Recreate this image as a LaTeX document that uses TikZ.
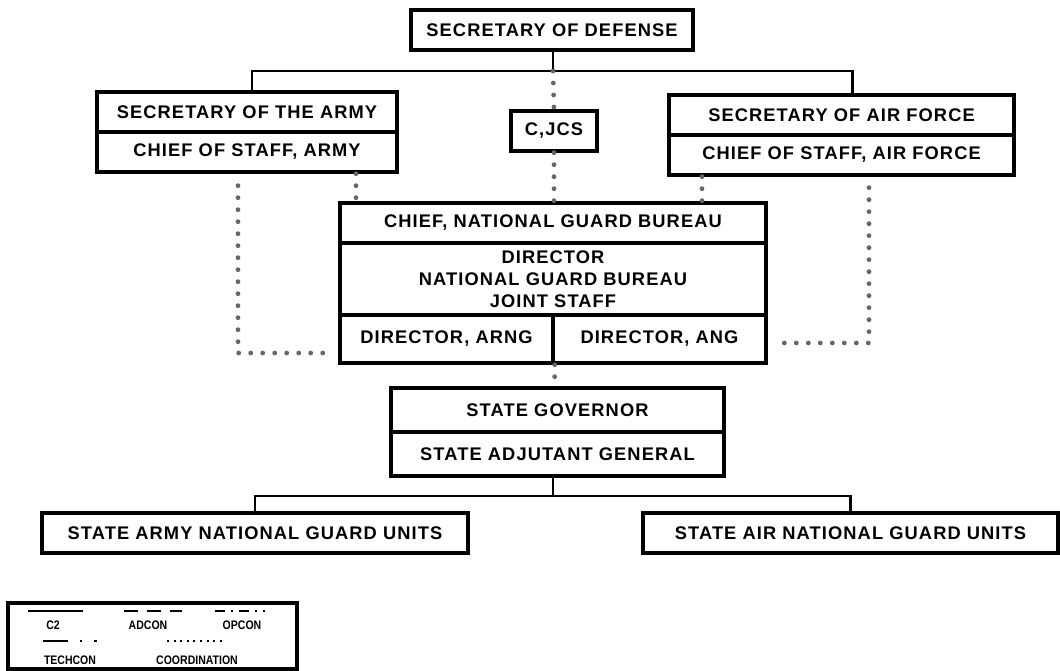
\documentclass[tikz,border=0pt]{standalone}
\usepackage{fontspec}
\setmainfont{Liberation Sans}
\newfontfamily\orgfont[LetterSpace=6]{Liberation Sans}
\newfontfamily\legfont[FakeStretch=0.85]{Liberation Sans}
\definecolor{dotgray}{HTML}{666666}

\begin{document}
\begin{tikzpicture}[
    orgbox/.style={draw, rectangle, line width=2.4pt, inner sep=0pt, align=center,
        font=\orgfont\fontsize{13}{15.6}\selectfont\bfseries},
    conn/.style={line width=2pt},
    coord/.style={draw=dotgray, line width=0.12cm, line cap=round, dash pattern=on 0pt off 0.3cm},
    legtext/.style={font=\legfont\fontsize{8.8}{10}\selectfont\bfseries, inner sep=0pt},
    legline/.style={line width=1.5pt}
]
    \useasboundingbox (0,0) rectangle (26.5,-16.775);

    % Secretary of Defense
    \node[orgbox, minimum width=7.05cm, minimum height=1cm] (secdef) at (13.8,-0.75) {SECRETARY OF DEFENSE};
    \coordinate (topbus) at (13.825,-1.775);

    % Army
    \node[orgbox, minimum width=7.5cm, minimum height=1cm] (secarmy) at (6.175,-2.8) {SECRETARY OF THE ARMY};
    \node[orgbox, minimum width=7.5cm, minimum height=1cm] (cosa) at (6.175,-3.8) {CHIEF OF STAFF, ARMY};

    % C,JCS
    \node[orgbox, minimum width=2.15cm, minimum height=1cm] (cjcs) at (13.85,-3.275) {C,JCS};

    % Air Force
    \node[orgbox, minimum width=8.625cm, minimum height=1cm] (secaf) at (21.0375,-2.875) {SECRETARY OF AIR FORCE};
    \node[orgbox, minimum width=8.625cm, minimum height=1cm] (cosaf) at (21.0375,-3.875) {CHIEF OF STAFF, AIR FORCE};

    % National Guard Bureau
    \node[orgbox, minimum width=10.65cm, minimum height=1cm] (chief) at (13.825,-5.575) {CHIEF, NATIONAL GUARD BUREAU};
    \node[orgbox, minimum width=10.65cm, minimum height=1.8cm] (director) at (13.825,-6.975) {DIRECTOR\\NATIONAL GUARD BUREAU\\JOINT STAFF};
    \node[orgbox, minimum width=5.325cm, minimum height=1.2cm] (arng) at (11.1625,-8.475) {DIRECTOR, ARNG};
    \node[orgbox, minimum width=5.325cm, minimum height=1.2cm] (ang) at (16.4875,-8.475) {DIRECTOR, ANG};

    % State
    \node[orgbox, minimum width=8.325cm, minimum height=1.1cm] (gov) at (13.9375,-10.25) {STATE GOVERNOR};
    \node[orgbox, minimum width=8.325cm, minimum height=1.1cm] (adj) at (13.9375,-11.35) {STATE ADJUTANT GENERAL};
    \coordinate (govbus) at (13.825,-12.4);

    % Units
    \node[orgbox, minimum width=10.65cm, minimum height=1cm] (armyunits) at (6.375,-13.325) {STATE ARMY NATIONAL GUARD UNITS};
    \node[orgbox, minimum width=10.375cm, minimum height=1cm] (airunits) at (21.2625,-13.325) {STATE AIR NATIONAL GUARD UNITS};

    % Command lines
    \draw[conn] (secdef.south -| topbus) -- (topbus);
    \draw[conn] ([xshift=0.125cm]secarmy.north) |- (topbus) -| ([xshift=0.275cm]secaf.north);
    \draw[conn] (govbus |- adj.south) -- (govbus);
    \draw[conn] (armyunits.north) |- (govbus) -| (airunits.north);

    % Coordination lines
    \coordinate (lcorner) at (5.95,-8.825);
    \coordinate (lend) at (8.325,-8.825);
    \coordinate (rcorner) at (21.725,-8.575);
    \coordinate (rend) at (19.375,-8.575);
    \draw[coord] (topbus) -- (cjcs.north);
    \draw[coord] (cjcs.south) -- (cjcs.south |- chief.north);
    \draw[coord] ([xshift=2.725cm]cosa.south) -- ([xshift=2.725cm]cosa.south |- chief.north);
    \draw[coord] ([xshift=-3.4875cm]cosaf.south) -- ([xshift=-3.4875cm]cosaf.south |- chief.north);
    \draw[coord] (arng.south east) -- (arng.south east |- gov.north);
    \draw[coord] ([yshift=-0.3cm]cosa.south -| lcorner) -- (lcorner) -- (lend);
    \draw[coord] ([yshift=-0.275cm]cosaf.south -| rcorner) -- (rcorner) -- (rend);

    % Legend
    \node[draw, rectangle, line width=2.4pt, minimum width=7.225cm, minimum height=1.65cm] (legend) at (3.8125,-15.9) {};
    \draw[legline] (0.7,-15.275) -- (2.075,-15.275);
    \node[legtext] (c2) at (1.325,-15.625) {C2};
    \draw[legline, dash pattern=on 0.35cm off 0.225cm] (3.1,-15.275) -- (4.55,-15.275);
    \node[legtext] (adcon) at (3.7,-15.625) {ADCON};
    \draw[legline, dash pattern=on 0.25cm off 0.15cm on 0.05cm off 0.15cm] (5.375,-15.275) -- (6.625,-15.275);
    \node[legtext] (opcon) at (6.05,-15.625) {OPCON};
    \draw[legline, dash pattern=on 0.625cm off 0.3cm on 0.05cm off 0.3cm] (1.075,-16.025) -- (2.425,-16.025);
    \node[legtext] (techcon) at (1.75,-16.5) {TECHCON};
    \draw[legline, dash pattern=on 0.05cm off 0.115cm] (4.175,-16.025) -- (5.55,-16.025);
    \node[legtext] (coordination) at (4.925,-16.5) {COORDINATION};
\end{tikzpicture}
\end{document}
